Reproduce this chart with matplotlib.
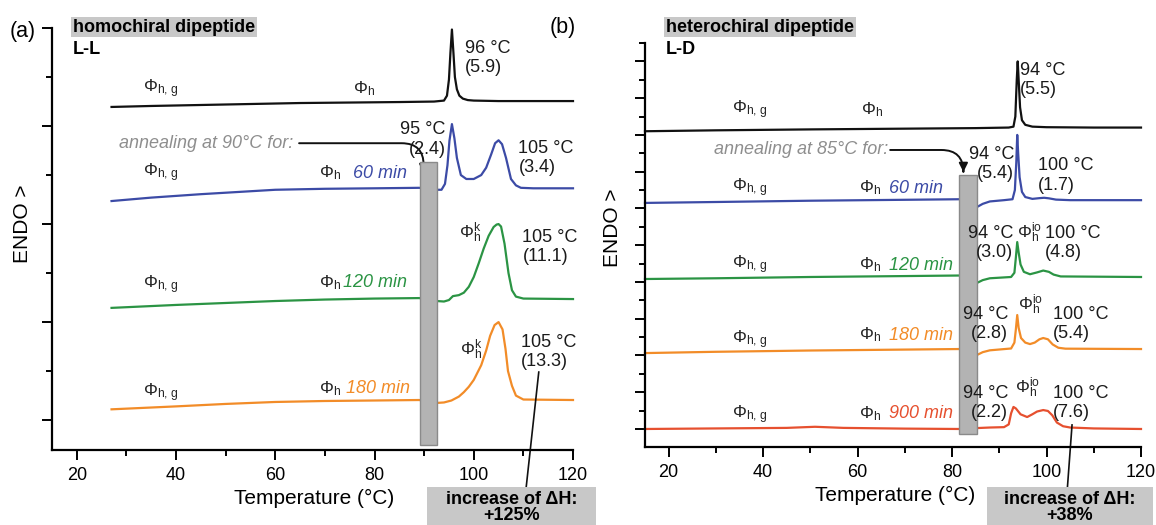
import matplotlib
matplotlib.use('Agg')
import matplotlib.pyplot as plt
from matplotlib.patches import Rectangle
from matplotlib.ticker import MultipleLocator

plt.rcParams['font.family'] = ['Liberation Sans', 'DejaVu Sans']
plt.rcParams['mathtext.fontset'] = 'custom'
plt.rcParams['mathtext.rm'] = 'Liberation Sans'
plt.rcParams['mathtext.it'] = 'Liberation Sans:italic'
plt.rcParams['mathtext.bf'] = 'Liberation Sans:bold'

W, H = 1156, 525

# ---- (a) homochiral L-L, annealed at 90 °C ----
t_ll_0 = [27, 35, 45, 55, 65, 75, 85, 92, 94.0, 94.6, 95.0, 95.3, 95.6, 95.9, 96.2, 96.6, 97.1, 97.8, 98.8, 100, 105, 110, 120]
ll_0 = [6.39, 6.41, 6.43, 6.45, 6.47, 6.48, 6.49, 6.50, 6.52, 6.62, 6.95, 7.5, 7.97, 7.5, 7.0, 6.75, 6.62, 6.56, 6.53, 6.52, 6.51, 6.51, 6.51]

t_ll_60 = [27, 35, 45, 55, 60, 70, 80, 89, 92.5, 93.5, 94.2, 94.7, 95.1, 95.6, 96.1, 96.6, 97.4, 98.5, 100, 101.5, 102.5, 103.5, 104.3, 105, 105.7, 106.5, 107.5, 108.5, 109.5, 112, 120]
ll_60 = [4.47, 4.54, 4.61, 4.67, 4.70, 4.72, 4.73, 4.74, 4.70, 4.70, 4.82, 5.2, 5.7, 6.04, 5.75, 5.35, 5.0, 4.92, 4.92, 5.0, 5.15, 5.42, 5.65, 5.71, 5.63, 5.35, 4.92, 4.79, 4.74, 4.73, 4.73]

t_ll_120 = [27, 40, 50, 60, 70, 80, 89, 92.5, 94, 95, 95.8, 97, 98, 99, 100, 101, 102, 103, 104, 104.6, 105, 105.5, 106.2, 107, 107.7, 108.5, 110, 120]
ll_120 = [2.29, 2.35, 2.39, 2.43, 2.46, 2.48, 2.49, 2.43, 2.42, 2.45, 2.53, 2.55, 2.6, 2.72, 2.92, 3.2, 3.5, 3.76, 3.94, 3.99, 4.0, 3.95, 3.6, 3.0, 2.65, 2.52, 2.48, 2.47]

t_ll_180 = [27, 40, 50, 60, 70, 80, 89, 92.5, 94, 95.5, 97, 98, 99, 100, 101.5, 102.5, 103.3, 104.2, 105, 105.8, 106.4, 106.9, 107.7, 108.5, 110, 120]
ll_180 = [0.22, 0.28, 0.33, 0.37, 0.39, 0.40, 0.41, 0.35, 0.36, 0.40, 0.48, 0.57, 0.68, 0.82, 1.12, 1.42, 1.72, 1.94, 2.0, 1.85, 1.45, 1.0, 0.7, 0.5, 0.42, 0.41]

bar_ll_t = (89.1, 92.5)
bar_ll_y = (-0.51, 5.27)

# ---- (b) heterochiral L-D, annealed at 85 °C ----
t_ld_0 = [15, 30, 50, 70, 85, 92, 93.0, 93.4, 93.7, 93.9, 94.1, 94.4, 94.8, 95.5, 97, 100, 110, 120]
ld_0 = [16.2, 16.25, 16.3, 16.34, 16.37, 16.4, 16.45, 17.0, 19.0, 20.0, 19.0, 17.5, 16.8, 16.55, 16.45, 16.42, 16.4, 16.4]

t_ld_60 = [15, 30, 50, 70, 81.5, 85.3, 86.5, 88, 91, 92.8, 93.3, 93.6, 93.8, 94.0, 94.3, 94.8, 95.5, 97, 98.5, 99.5, 100.5, 102, 105, 120]
ld_60 = [12.3, 12.35, 12.42, 12.47, 12.5, 12.08, 12.25, 12.38, 12.45, 12.5, 13.0, 14.5, 16.0, 15.0, 13.7, 12.9, 12.62, 12.52, 12.56, 12.58, 12.55, 12.48, 12.45, 12.45]

t_ld_120 = [15, 30, 50, 70, 81.5, 85.3, 86.5, 88, 92.5, 93.2, 93.5, 93.8, 94.1, 94.5, 95.2, 96.5, 98, 99.3, 100.5, 101.5, 103, 120]
ld_120 = [8.16, 8.2, 8.27, 8.32, 8.35, 7.95, 8.1, 8.2, 8.27, 8.5, 9.3, 10.17, 9.6, 8.95, 8.55, 8.42, 8.52, 8.62, 8.55, 8.4, 8.3, 8.27]

t_ld_180 = [15, 30, 50, 70, 81.5, 85.3, 86.5, 88, 92.5, 93.2, 93.5, 93.8, 94.1, 94.6, 95.5, 96.5, 97.5, 98.5, 99.3, 100.3, 101.3, 102.5, 104, 120]
ld_180 = [4.13, 4.2, 4.27, 4.32, 4.35, 4.03, 4.18, 4.28, 4.38, 4.7, 5.4, 6.2, 5.5, 4.95, 4.7, 4.62, 4.7, 4.88, 4.95, 4.88, 4.6, 4.42, 4.37, 4.35]

t_ld_900 = [15, 30, 45, 51, 57, 70, 81.5, 85.3, 88, 91, 92.0, 92.5, 93.0, 93.5, 94.5, 95.9, 97, 98, 99.3, 100.3, 101.2, 102.2, 103.5, 105, 110, 120]
ld_900 = [0.0, 0.03, 0.06, 0.12, 0.06, 0.02, 0.0, 0.05, 0.08, 0.1, 0.25, 0.85, 1.2, 1.12, 0.8, 0.65, 0.8, 0.95, 1.03, 0.98, 0.75, 0.35, 0.15, 0.08, 0.03, 0.0]

bar_ld_t = (81.5, 85.3)
bar_ld_y = (-0.27, 13.82)

BLACK = '#111111'
BLUE = '#3c4ba6'
GREEN = '#2b9444'
ORANGE = '#f28c28'
RED = '#e6502f'
GREY_TXT = '#8e8e8e'
BOX = '#c8c8c8'

fig = plt.figure(figsize=(W / 100, H / 100), dpi=100)


def fig_box(x0, x1, y0, y1):
    return [x0 / W, 1 - y1 / H, (x1 - x0) / W, (y1 - y0) / H]


def ftext(x, y, s, **kw):
    fig.text(x / W, 1 - y / H, s, **kw)


ax1 = fig.add_axes(fig_box(52, 573, 28, 450))
ax2 = fig.add_axes(fig_box(645, 1141, 43, 447))
ax1.set_ylim(-0.61, 8.001)
ax2.set_ylim(-0.98, 21.001)

for ax in (ax1, ax2):
    ax.set_xlim(15, 120)
    ax.spines['top'].set_visible(False)
    ax.spines['right'].set_visible(False)
    for s in ('left', 'bottom'):
        ax.spines[s].set_linewidth(1.6)
    ax.xaxis.set_major_locator(MultipleLocator(20))
    ax.xaxis.set_minor_locator(MultipleLocator(10))
    ax.yaxis.set_major_locator(MultipleLocator(2))
    ax.yaxis.set_minor_locator(MultipleLocator(1))
    ax.tick_params(which='major', direction='out', length=7, width=1.4, labelsize=13, pad=5)
    ax.tick_params(which='minor', direction='out', length=4, width=1.4)
    ax.set_yticklabels([])
    ax.patch.set_alpha(0)

# curves
for t, y, c in [(t_ll_0, ll_0, BLACK), (t_ll_60, ll_60, BLUE),
                (t_ll_120, ll_120, GREEN), (t_ll_180, ll_180, ORANGE)]:
    ax1.plot(t, y, color=c, lw=1.6, clip_on=False)
for t, y, c in [(t_ld_0, ld_0, BLACK), (t_ld_60, ld_60, BLUE), (t_ld_120, ld_120, GREEN),
                (t_ld_180, ld_180, ORANGE), (t_ld_900, ld_900, RED)]:
    ax2.plot(t, y, color=c, lw=1.6, clip_on=False)

# annealing bars
ax1.add_patch(Rectangle((bar_ll_t[0], bar_ll_y[0]), bar_ll_t[1] - bar_ll_t[0], bar_ll_y[1] - bar_ll_y[0],
                        facecolor='#b3b3b3', edgecolor='#8a8a8a', lw=1, zorder=5, clip_on=False))
ax2.add_patch(Rectangle((bar_ld_t[0], bar_ld_y[0]), bar_ld_t[1] - bar_ld_t[0], bar_ld_y[1] - bar_ld_y[0],
                        facecolor='#b3b3b3', edgecolor='#8a8a8a', lw=1, zorder=5, clip_on=False))

PHG = 'Φ$_{\\mathrm{h,\\,g}}$'
PH = 'Φ$_{\\mathrm{h}}$'
PHK = 'Φ$_{\\mathrm{h}}^{\\mathrm{k}}$'
PHIO = 'Φ$_{\\mathrm{h}}^{\\mathrm{io}}$'
lab = dict(fontsize=13, color='#1a1a1a', va='center', zorder=6)
phi = dict(fontsize=12.5, color='#262626', va='center', zorder=6)
mins = dict(fontsize=13, style='italic', va='center', zorder=6)

# ---- panel (a) labels ----
for y in (6.76, 5.04, 2.76, 0.55):
    ax1.text(33.3, y, PHG, **phi)
ax1.text(75.6, 6.76, PH, **phi)
for y, s, c, x in [(5.04, '60 min', BLUE, 75.6), (2.8, '120 min', GREEN, 73.7), (0.65, '180 min', ORANGE, 74.3)]:
    ax1.text(68.9, y, PH, **phi)
    ax1.text(x, y, s, color=c, **mins)
ax1.text(98.2, 7.39, '96 °C\n(5.9)', ha='left', **lab)
ax1.text(94.3, 5.73, '95 °C\n(2.4)', ha='right', **lab)
ax1.text(109.0, 5.35, '105 °C\n(3.4)', ha='left', **lab)
ax1.text(97.0, 3.82, PHK, **phi)
ax1.text(109.8, 3.53, '105 °C\n(11.1)', ha='left', **lab)
ax1.text(97.2, 1.43, PHK, **phi)
ax1.text(109.5, 1.39, '105 °C\n(13.3)', ha='left', **lab)
ax1.text(28.5, 5.65, 'annealing at 90°C for:', color=GREY_TXT, fontsize=13, style='italic', va='center')
ax1.annotate('', xy=(89.9, 5.04), xytext=(64.8, 5.65),
             arrowprops=dict(arrowstyle='-|>', color=BLACK, lw=1.4, mutation_scale=13,
                             shrinkA=0, shrinkB=0,
                             connectionstyle='angle,angleA=0,angleB=90,rad=22'))
ax1.plot([113.1, 110.5], [0.98, -1.43], color=BLACK, lw=1.2, clip_on=False)

# ---- panel (b) labels ----
for y in (17.36, 13.11, 8.92, 4.84, 0.76):
    ax2.text(33.5, y, PHG, **phi)
ax2.text(60.8, 17.36, PH, **phi)
for y, s, c in [(13.11, '60 min', BLUE), (8.92, '120 min', GREEN), (5.11, '180 min', ORANGE), (0.82, '900 min', RED)]:
    ax2.text(60.4, y, PH, **phi)
    ax2.text(66.6, y, s, color=c, **mins)
ax2.text(94.4, 18.99, '94 °C\n(5.5)', ha='left', **lab)
ax2.text(93.1, 14.42, '94 °C\n(5.4)', ha='right', **lab)
ax2.text(98.2, 13.79, '100 °C\n(1.7)', ha='left', **lab)
ax2.text(92.9, 10.12, '94 °C\n(3.0)', ha='right', **lab)
ax2.text(93.8, 10.66, PHIO, **phi)
ax2.text(99.7, 10.12, '100 °C\n(4.8)', ha='left', **lab)
ax2.text(91.9, 5.71, '94 °C\n(2.8)', ha='right', **lab)
ax2.text(94.0, 6.75, PHIO, **phi)
ax2.text(101.4, 5.71, '100 °C\n(5.4)', ha='left', **lab)
ax2.text(91.9, 1.41, '94 °C\n(2.2)', ha='right', **lab)
ax2.text(93.4, 2.23, PHIO, **phi)
ax2.text(101.4, 1.41, '100 °C\n(7.6)', ha='left', **lab)
ax2.text(29.7, 15.18, 'annealing at 85°C for:', color=GREY_TXT, fontsize=13, style='italic', va='center')
ax2.annotate('', xy=(82.4, 13.98), xytext=(66.9, 15.18),
             arrowprops=dict(arrowstyle='-|>', color=BLACK, lw=1.4, mutation_scale=13,
                             shrinkA=0, shrinkB=0,
                             connectionstyle='angle,angleA=0,angleB=90,rad=22'))
ax2.plot([105.4, 104.4], [0.22, -3.26], color=BLACK, lw=1.2, clip_on=False)

# ---- figure-level text ----
ftext(23, 31, '(a)', fontsize=15.5, ha='center', va='center')
ftext(563, 28, '(b)', fontsize=15.5, ha='center', va='center')
hdr = dict(fontsize=13, fontweight='bold', ha='left', va='center')
ftext(73, 27, 'homochiral dipeptide', bbox=dict(facecolor=BOX, edgecolor='none', pad=1.2), **hdr)
ftext(73, 49, 'L-L', **hdr)
ftext(666, 27, 'heterochiral dipeptide', bbox=dict(facecolor=BOX, edgecolor='none', pad=1.2), **hdr)
ftext(666, 49, 'L-D', **hdr)
ftext(22, 224, 'ENDO >', fontsize=15, rotation=90, ha='center', va='center')
ftext(613, 228, 'ENDO >', fontsize=15, rotation=90, ha='center', va='center')
ftext(314, 498, 'Temperature (°C)', fontsize=15, ha='center', va='center')
ftext(895, 495, 'Temperature (°C)', fontsize=15, ha='center', va='center')

for x0, x1, pct in [(427, 596, '+125%'), (987, 1153, '+38%')]:
    fig.patches.append(Rectangle((x0 / W, 0), (x1 - x0) / W, (H - 487) / H,
                                 transform=fig.transFigure, facecolor=BOX, edgecolor='none', zorder=0))
    xc = (x0 + x1) / 2
    ftext(xc, 499, 'increase of ΔH:', fontsize=13, fontweight='bold', ha='center', va='center')
    ftext(xc, 516, pct, fontsize=13, fontweight='bold', ha='center', va='center')

fig.savefig('out.png', dpi=100)
